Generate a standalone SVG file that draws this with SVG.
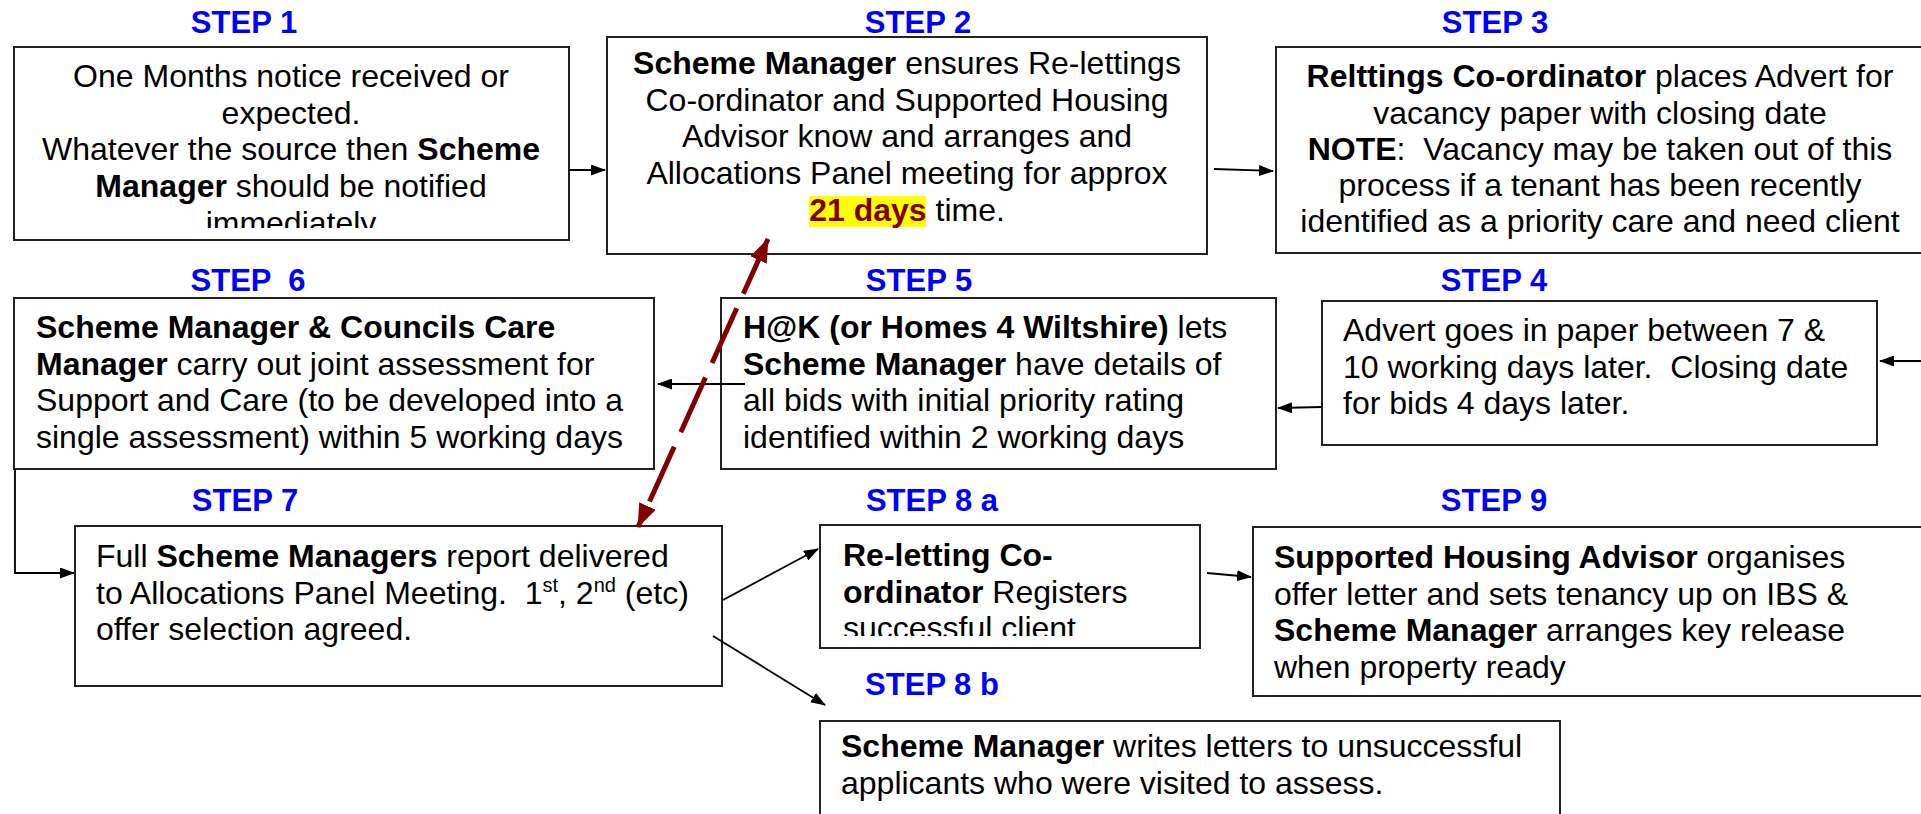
<svg xmlns="http://www.w3.org/2000/svg" width="1921" height="814" viewBox="0 0 1921 814">
<style>
text{font-family:"Liberation Sans",Arial,sans-serif;font-size:32px;fill:#000;white-space:pre}
.step{font-weight:bold;fill:#0000ff;font-size:31px;text-anchor:middle}
.b{font-weight:bold}
.c{text-anchor:middle}
.box{fill:#fff;stroke:#222;stroke-width:2}
.conn{stroke:#000;stroke-width:1.8;fill:none;marker-end:url(#ah)}
.red{stroke:#800000;stroke-width:5;fill:none;stroke-dasharray:60 16;marker-start:url(#rh);marker-end:url(#rh)}
.sup{font-size:20px}
</style>
<defs>
<marker id="ah" markerUnits="userSpaceOnUse" markerWidth="15" markerHeight="11" refX="14" refY="5.5" orient="auto"><path d="M0,0 L15,5.5 L0,11 z" fill="#000"/></marker>
<marker id="rh" markerUnits="userSpaceOnUse" markerWidth="24" markerHeight="18" refX="23" refY="9" orient="auto-start-reverse"><path d="M0,0 L24,9 L0,18 z" fill="#800000"/></marker>
<clipPath id="clip1"><rect x="14" y="47" width="555" height="181"/></clipPath>
<clipPath id="clip8a"><rect x="820" y="525" width="380" height="111"/></clipPath>
</defs>
<rect width="1921" height="814" fill="#fff"/>

<g id="step1">
<text class="step" x="244" y="33">STEP 1</text>
<rect class="box" x="14" y="47" width="555" height="193"/>
<g clip-path="url(#clip1)">
<text class="c" x="291" y="87">One Months notice received or</text>
<text class="c" x="291" y="123.7">expected.</text>
<text class="c" x="291" y="160.3">Whatever the source then <tspan class="b">Scheme</tspan></text>
<text class="c" x="291" y="197"><tspan class="b">Manager</tspan> should be notified</text>
<text class="c" x="291" y="233.7">immediately</text>
</g>
</g>

<g id="step2">
<text class="step" x="918" y="33">STEP 2</text>
<rect class="box" x="607" y="37" width="600" height="217"/>
<rect x="809" y="196" width="117" height="31" fill="#ffff00"/>
<text class="c" x="907" y="74"><tspan class="b">Scheme Manager</tspan> ensures Re-lettings</text>
<text class="c" x="907" y="110.7">Co-ordinator and Supported Housing</text>
<text class="c" x="907" y="147.3">Advisor know and arranges and</text>
<text class="c" x="907" y="184">Allocations Panel meeting for approx</text>
<text class="c" x="907" y="220.7"><tspan class="b" fill="#800000">21 days</tspan> time.</text>
</g>

<g id="step3">
<text class="step" x="1495" y="33">STEP 3</text>
<rect class="box" x="1276" y="47" width="660" height="206"/>
<text class="c" x="1600" y="87"><tspan class="b">Relttings Co-ordinator</tspan> places Advert for</text>
<text class="c" x="1600" y="123.7">vacancy paper with closing date</text>
<text class="c" x="1600" y="160.3"><tspan class="b">NOTE</tspan>:  Vacancy may be taken out of this</text>
<text class="c" x="1600" y="196">process if a tenant has been recently</text>
<text class="c" x="1600" y="232">identified as a priority care and need client</text>
</g>

<g id="step4">
<text class="step" x="1494" y="291">STEP 4</text>
<rect class="box" x="1322" y="301" width="555" height="144"/>
<text x="1343" y="341">Advert goes in paper between 7 &amp;</text>
<text x="1343" y="377.7">10 working days later.  Closing date</text>
<text x="1343" y="414.3">for bids 4 days later.</text>
</g>

<g id="step5">
<text class="step" x="919" y="291">STEP 5</text>
<rect class="box" x="721" y="298" width="555" height="171"/>
<text x="743" y="338"><tspan class="b">H@K (or Homes 4 Wiltshire)</tspan> lets</text>
<text x="743" y="374.7"><tspan class="b">Scheme Manager</tspan> have details of</text>
<text x="743" y="411.3">all bids with initial priority rating</text>
<text x="743" y="448">identified within 2 working days</text>
</g>

<g id="step6">
<text class="step" x="248" y="291">STEP  6</text>
<rect class="box" x="14" y="298" width="640" height="171"/>
<text x="36" y="338" class="b">Scheme Manager &amp; Councils Care</text>
<text x="36" y="374.7"><tspan class="b">Manager</tspan> carry out joint assessment for</text>
<text x="36" y="411.3">Support and Care (to be developed into a</text>
<text x="36" y="448">single assessment) within 5 working days</text>
</g>

<g id="step7">
<text class="step" x="245" y="511">STEP 7</text>
<rect class="box" x="75" y="526" width="647" height="160"/>
<text x="96" y="567">Full <tspan class="b">Scheme Managers</tspan> report delivered</text>
<text x="96" y="603.7">to Allocations Panel Meeting.  1<tspan class="sup" dy="-12">st</tspan><tspan dy="12">, 2</tspan><tspan class="sup" dy="-12">nd</tspan><tspan dy="12"> (etc)</tspan></text>
<text x="96" y="640.3">offer selection agreed.</text>
</g>

<g id="step8a">
<text class="step" x="932" y="511">STEP 8 a</text>
<rect class="box" x="820" y="525" width="380" height="123"/>
<g clip-path="url(#clip8a)">
<text x="843" y="566" class="b">Re-letting Co-</text>
<text x="843" y="602.7"><tspan class="b">ordinator</tspan> Registers</text>
<text x="843" y="639.3">successful client</text>
</g>
</g>

<g id="step9">
<text class="step" x="1494" y="511">STEP 9</text>
<rect class="box" x="1253" y="527" width="690" height="169"/>
<text x="1274" y="568"><tspan class="b">Supported Housing Advisor</tspan> organises</text>
<text x="1274" y="604.7">offer letter and sets tenancy up on IBS &amp;</text>
<text x="1274" y="641.3"><tspan class="b">Scheme Manager</tspan> arranges key release</text>
<text x="1274" y="678">when property ready</text>
</g>

<g id="step8b">
<text class="step" x="932" y="695">STEP 8 b</text>
<rect class="box" x="820" y="721" width="740" height="100"/>
<text x="841" y="757"><tspan class="b">Scheme Manager</tspan> writes letters to unsuccessful</text>
<text x="841" y="793.7">applicants who were visited to assess.</text>
</g>

<g id="connectors">
<line class="conn" x1="569" y1="170" x2="605" y2="170"/>
<line class="conn" x1="1214" y1="169" x2="1273" y2="171"/>
<line class="conn" x1="1921" y1="361" x2="1880" y2="361"/>
<line class="conn" x1="1322" y1="407" x2="1278" y2="408"/>
<line class="conn" x1="745" y1="384" x2="658" y2="384"/>
<polyline class="conn" points="15,469 15,573 74,573"/>
<line class="conn" x1="723" y1="600" x2="818" y2="549"/>
<line class="conn" x1="1207" y1="573" x2="1251" y2="577"/>
<line class="conn" x1="713" y1="636" x2="825" y2="705"/>
<line class="red" x1="768" y1="239" x2="638" y2="527"/>
</g>
</svg>
